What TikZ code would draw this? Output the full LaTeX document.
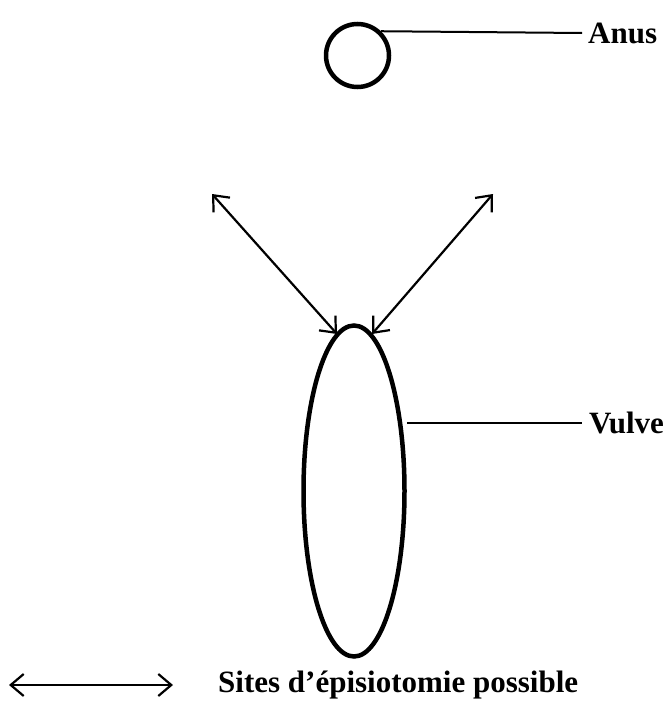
\documentclass[tikz,border=0pt]{standalone}
\usepackage{fontspec}
\setmainfont{Liberation Serif}
\usetikzlibrary{arrows.meta,shapes.geometric}
\begin{document}
\begin{tikzpicture}[x=1pt,y=-1pt,
  organ/.style={draw,line width=4.5pt},
  leader/.style={draw,line width=2pt},
  site/.style={line width=2.2pt,{Straight Barb[length=13pt,width=22pt]}-{Straight Barb[length=13pt,width=22pt]}},
  lbl/.style={font=\bfseries\fontsize{31}{34}\selectfont,inner sep=0pt}]
\useasboundingbox (0,0) rectangle (669,704);
\node[organ,circle,minimum size=63pt,inner sep=0pt] (anus) at (357.5,55.5) {};
\node[organ,ellipse,minimum width=101pt,minimum height=331pt,inner sep=0pt] (vulve) at (354,491) {};
\coordinate (anusend) at (582,33);
\node[lbl,anchor=west] (anuslbl) at (588,33) {Anus};
\coordinate (vulveend) at (582,423);
\node[lbl,anchor=west] (vulvelbl) at (589,423) {Vulve};
\draw[leader] (anus.46) -- (anusend);
\draw[leader] (vulve.east |- vulveend) -- (vulveend);
\coordinate (lt) at (212,194);
\coordinate (lb) at (337,334);
\coordinate (rt) at (493,194);
\coordinate (rb) at (372,334);
\draw[site] (lt) -- (lb);
\draw[site] (rt) -- (rb);
\coordinate (la) at (9,685);
\coordinate (lz) at (173,685);
\draw[site] (la) -- (lz);
\node[lbl,anchor=west] (legend) at (218,685) {Sites d’épisiotomie possible};
\end{tikzpicture}
\end{document}
